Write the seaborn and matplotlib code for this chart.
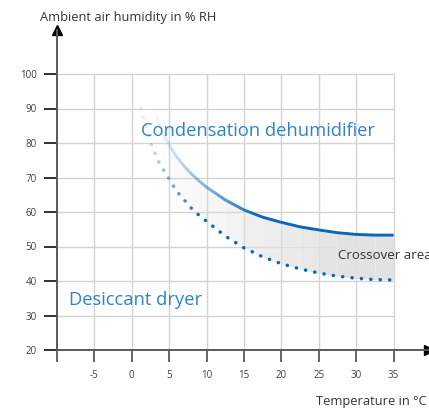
import numpy as np
import matplotlib
matplotlib.use('Agg')
import matplotlib.pyplot as plt
import seaborn as sns
from matplotlib.patches import Rectangle

# values
temp_cond = [2.8, 3.5, 4, 5, 6, 7, 8, 9, 10, 12.5, 15, 17.5, 20, 22.5, 25, 27.5, 30, 32.5, 35]
rh_cond = [91, 86.5, 83.5, 79.4, 76, 73.3, 71, 69, 67.2, 63.5, 60.6, 58.5, 57, 55.7, 54.8, 54, 53.5, 53.3, 53.3]
temp_dry = [1.2, 2, 2.5, 3, 3.6, 4, 5, 6, 7, 8, 9, 10, 12.5, 15, 17.5, 20, 22.5, 25, 27.5, 30, 32.5, 35]
rh_dry = [90, 84, 80, 77.5, 74.5, 73, 69.5, 66, 63.5, 61, 59, 57.3, 53, 49.6, 47, 45, 43.5, 42.3, 41.4, 40.8, 40.4, 40.3]

x_ticks = [-10, -5, 0, 5, 10, 15, 20, 25, 30, 35]
x_labels = ['', '-5', '0', '5', '10', '15', '20', '25', '30', '35']
y_ticks = [20, 30, 40, 50, 60, 70, 80, 90, 100]

sns.set_style('white')
plt.rcParams['font.family'] = ['Open Sans', 'DejaVu Sans']

blue = '#0b67b8'
text_blue = '#2e82cc'
axis_col = '#595959'

fig = plt.figure(figsize=(4.29, 4.08), dpi=100)
ax = fig.add_axes([57/429, 58/408, 372/429, 320/408])
ax.set_xlim(-10, -10 + 372/7.48)
ax.set_ylim(20, 20 + 320/3.45)

# grid limited to the data box
ax.hlines(y_ticks[1:], -10, 35, color='#d4d4d4', lw=1, zorder=0)
ax.vlines(x_ticks[1:], 20, 100, color='#d4d4d4', lw=1, zorder=0)

# crossover area: gradient fill between the curves (common x from 4 on)
fx = temp_cond[2:]
fy_top = rh_cond[2:]
fy_bot = rh_dry[5:]
n = len(fx) - 1
for i in range(n):
    a = min(1.0, 0.08 + 0.92 * (fx[i] - 4) / 24)
    ax.fill_between(fx[i:i + 2], fy_bot[i:i + 2], fy_top[i:i + 2],
                    color='#e2e2e2', alpha=a, lw=0, zorder=1)


def faded_line(x, y, x0, x1, a0, **kw):
    # draw the same line several times, each copy clipped to a vertical band,
    # so the alpha ramps up from left to right without breaking the dash phase
    edges = list(np.arange(x0, x1, 0.5)) + [x1]
    bands = [(-20, edges[0], a0)]
    for lo, hi in zip(edges[:-1], edges[1:]):
        bands.append((lo, hi, a0 + (1 - a0) * (lo - x0) / (x1 - x0)))
    bands.append((x1, 60, 1.0))
    for lo, hi, a in bands:
        sns.lineplot(x=x, y=y, ax=ax, color=blue, alpha=a, zorder=3, **kw)
        line = ax.lines[-1]
        rect = Rectangle((lo, 0), hi - lo, 200, transform=ax.transData)
        line.set_clip_path(rect)


faded_line(temp_cond, rh_cond, 2.8, 17, 0.02, lw=2.1, solid_capstyle='butt')
faded_line(temp_dry, rh_dry, 1.2, 9, 0.1, lw=2.6,
           linestyle=(0, (0.01, 2.6)), dash_capstyle='round')

# axes styling
for s in ['top', 'right']:
    ax.spines[s].set_visible(False)
for s in ['left', 'bottom']:
    ax.spines[s].set_color(axis_col)
    ax.spines[s].set_linewidth(1.4)

ax.set_xticks(x_ticks)
ax.set_xticklabels(x_labels)
ax.set_yticks(y_ticks)
ax.tick_params(axis='x', direction='out', length=8.5, width=1.3, color=axis_col,
               labelsize=7, labelcolor='#404040', pad=6)
ax.tick_params(axis='y', direction='out', length=9.5, width=1.3, color='#222222',
               labelsize=7, labelcolor='#404040', pad=5)
ax.tick_params(bottom=True, left=True)

# arrow heads
ax.plot(1, 0, '>', color='black', ms=6.5, transform=ax.transAxes, clip_on=False)
ax.plot(0, 1, '^', color='black', ms=6.5, transform=ax.transAxes, clip_on=False)

# labels
ax.text(1.2, 83.5, 'Condensation dehumidifier', color=text_blue, fontsize=13.2,
        ha='left', va='center')
ax.text(-8.4, 34.5, 'Desiccant dryer', color=text_blue, fontsize=13.2,
        ha='left', va='center')
ax.text(27.6, 47.3, 'Crossover area', color='#333333', fontsize=9.5,
        ha='left', va='center')
fig.text(40/429, 1 - 18/408, 'Ambient air humidity in % RH', color='#333333',
         fontsize=9.3, ha='left', va='center')
fig.text(316/429, 1 - 401/408, 'Temperature in °C', color='#333333',
         fontsize=9.3, ha='left', va='center')

fig.savefig('out.png', dpi=100)
